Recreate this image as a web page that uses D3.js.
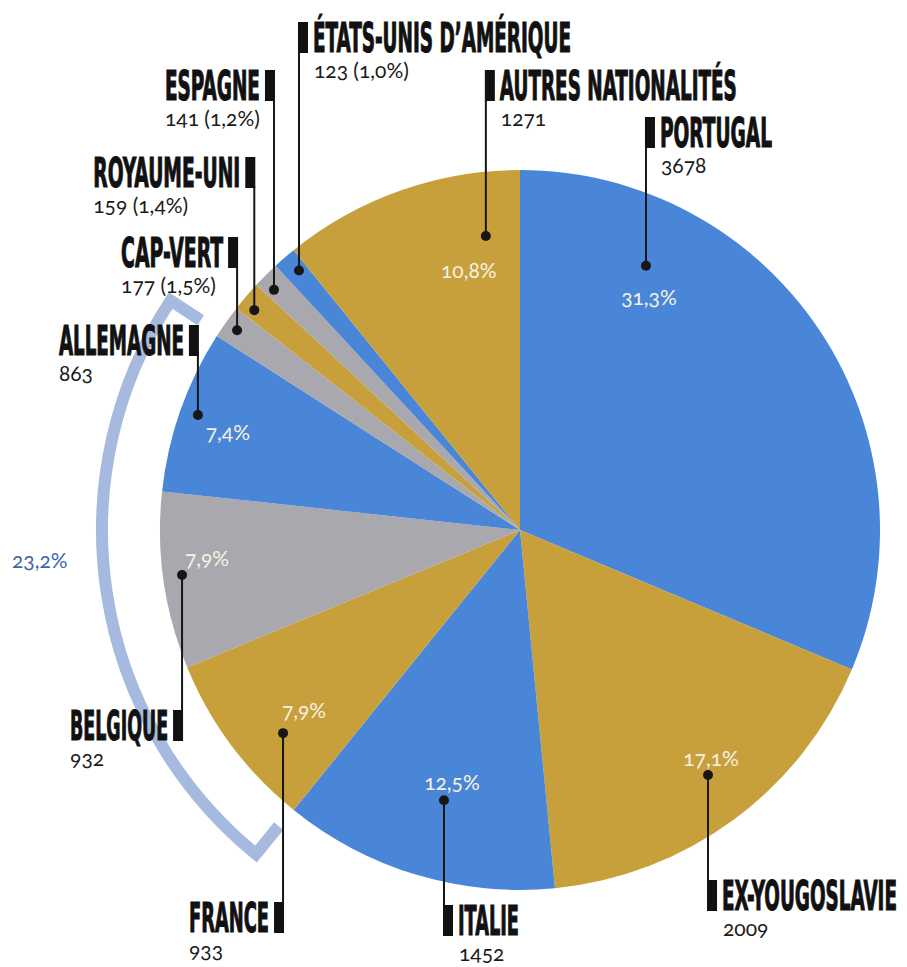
<!DOCTYPE html>
<meta charset="utf-8">
<title>Nationalités</title>
<style>
body {
  margin: 0px;
  background: #fff;
}
.name {
  font-family: "Liberation Sans Narrow", "DejaVu Sans Condensed", "Roboto", sans-serif;
  font-weight: bold;
  font-size: 40px;
  fill: #111;
  stroke: #111;
  stroke-width: 1.1px;
}
.num {
  font-family: Lato, "Open Sans", sans-serif;
  font-size: 21px;
  fill: #1b1b1b;
  font-feature-settings: "onum";
}
.pct {
  font-family: Lato, "Open Sans", sans-serif;
  font-size: 21px;
  fill: #f6f1e4;
  text-anchor: middle;
  font-feature-settings: "onum";
}
</style>

<script src="https://cdn.jsdelivr.net/npm/d3@7"></script>

<body>
<script>
var width = 907, height = 967;

// data, clockwise from 12 o'clock
var nations = ["PORTUGAL", "EX-YOUGOSLAVIE", "ITALIE", "FRANCE", "BELGIQUE", "ALLEMAGNE",
  "CAP-VERT", "ROYAUME-UNI", "ESPAGNE", "ÉTATS-UNIS D’AMÉRIQUE", "AUTRES NATIONALITÉS"];
var counts = [3678, 2009, 1452, 933, 932, 863, 177, 159, 141, 123, 1271];
var shares = [31.3, 17.1, 12.5, 7.9, 7.9, 7.4, 1.5, 1.4, 1.2, 1.0, 10.8];
var tones = ["blue", "gold", "blue", "gold", "grey", "blue", "grey", "gold", "grey", "blue", "gold"];
// France + Belgique + Allemagne
var groupShare = 23.2;
var groupFrom = "FRANCE", groupTo = "ALLEMAGNE";

// label placement: side of the text, baseline, text width,
// dot position inside the slice (angle fraction, radius fraction), pct offset from dot
var layout = [
  {side: "R", y: 147, w: 112, t: .226, rf: .813, px: 3, py: 33},
  {side: "R", y: 910, w: 175, t: .482, rf: .858, px: 3, py: -15},
  {side: "R", y: 935, w: 61, t: .478, rf: .78, px: 8, py: -16},
  {side: "L", y: 932, w: 80, t: .365, rf: .867, px: 21, py: -21},
  {side: "L", y: 740, w: 98, t: .52, rf: .947, px: 25, py: -15},
  {side: "L", y: 355, w: 125, t: .51, rf: .95, px: 30, py: 19},
  {side: "L", y: 267, w: 102, t: .48, rf: .962},
  {side: "L", y: 187, w: 147, t: .32, rf: .958},
  {side: "L", y: 100, w: 95, t: .32, rf: .955},
  {side: "R", y: 52, w: 258, t: .62, rf: .947},
  {side: "R", y: 100, w: 237, t: .83, rf: .822, px: -17, py: 36}
];

var data = nations.map(function(n, i) {
  return {name: n, count: counts[i], share: shares[i], tone: tones[i], lay: layout[i]};
});

var cx = 520, cy = 530, R = 360;
var color = d3.scaleOrdinal()
    .domain(["blue", "gold", "grey"])
    .range(["#4a86d7", "#c8a03b", "#a9a8ae"]);
var fmt = function(v) { return d3.format(".1f")(v).replace(".", ","); };

var svg = d3.select("body").append("svg")
    .attr("width", width)
    .attr("height", height);

var pie = d3.pie().sort(null).value(function(d) { return d.count; });
var arcs = pie(data);
var arc = d3.arc().innerRadius(0).outerRadius(R);

function polar(a, r) {
  return [cx + r * Math.sin(a), cy - r * Math.cos(a)];
}

// bracket round the three grouped slices
var first = arcs.find(function(d) { return d.data.name == groupFrom; });
var last = arcs.find(function(d) { return d.data.name == groupTo; });
var a0 = first.startAngle + 0.004, a1 = last.endAngle + 0.012;
var rOut = 418, rIn = 382;
var bp = d3.path();
var p = polar(a0, rIn); bp.moveTo(p[0], p[1]);
p = polar(a0, rOut); bp.lineTo(p[0], p[1]);
bp.arc(cx, cy, rOut, a0 - Math.PI / 2, a1 - Math.PI / 2, false);
p = polar(a1, rIn); bp.lineTo(p[0], p[1]);
svg.append("path")
    .attr("d", bp.toString())
    .attr("fill", "none")
    .attr("stroke", "#a6badf")
    .attr("stroke-width", 12)
    .attr("stroke-linejoin", "miter");
svg.append("text")
    .attr("class", "num")
    .attr("x", 12)
    .attr("y", 568)
    .style("fill", "#3c67aa")
    .text(fmt(groupShare) + "%");

// slices
svg.append("g")
    .attr("transform", "translate(" + [cx, cy] + ")")
  .selectAll("path")
    .data(arcs)
  .enter().append("path")
    .attr("d", arc)
    .attr("fill", function(d) { return color(d.data.tone); });

// labels
var lab = svg.append("g").selectAll("g")
    .data(arcs)
  .enter().append("g")
    .each(function(d) {
      var L = d.data.lay;
      var a = d.startAngle + L.t * (d.endAngle - d.startAngle);
      d.dot = polar(a, L.rf * R);
    });

lab.append("line")
    .attr("x1", function(d) { return d.dot[0]; })
    .attr("x2", function(d) { return d.dot[0]; })
    .attr("y1", function(d) { return d.dot[1]; })
    .attr("y2", function(d) { return d.data.lay.y < d.dot[1] ? d.data.lay.y : d.data.lay.y - 30; })
    .attr("stroke", "#161616")
    .attr("stroke-width", 2);

lab.append("circle")
    .attr("cx", function(d) { return d.dot[0]; })
    .attr("cy", function(d) { return d.dot[1]; })
    .attr("r", 5)
    .attr("fill", "#161616");

lab.append("rect")
    .attr("x", function(d) { return d.data.lay.side == "R" ? d.dot[0] - 1 : d.dot[0] - 9; })
    .attr("y", function(d) { return d.data.lay.y - 30; })
    .attr("width", 10)
    .attr("height", 31)
    .attr("fill", "#111");

lab.append("text")
    .attr("class", "name")
    .attr("x", function(d) { return d.data.lay.side == "R" ? d.dot[0] + 14 : d.dot[0] - 14; })
    .attr("y", function(d) { return d.data.lay.y; })
    .attr("text-anchor", function(d) { return d.data.lay.side == "R" ? "start" : "end"; })
    .attr("textLength", function(d) { return d.data.lay.w; })
    .attr("lengthAdjust", "spacingAndGlyphs")
    .text(function(d) { return d.data.name; });

lab.append("text")
    .attr("class", "num")
    .attr("x", function(d) {
      var L = d.data.lay;
      return L.side == "R" ? d.dot[0] + 15 : d.dot[0] - 14 - L.w;
    })
    .attr("y", function(d) { return d.data.lay.y + 26; })
    .text(function(d) {
      return d.data.share < 5 ? d.data.count + " (" + fmt(d.data.share) + "%)" : d.data.count;
    });

lab.filter(function(d) { return d.data.share >= 5; })
  .append("text")
    .attr("class", "pct")
    .attr("x", function(d) { return d.dot[0] + d.data.lay.px; })
    .attr("y", function(d) { return d.dot[1] + d.data.lay.py + 6; })
    .text(function(d) { return fmt(d.data.share) + "%"; });
</script>
